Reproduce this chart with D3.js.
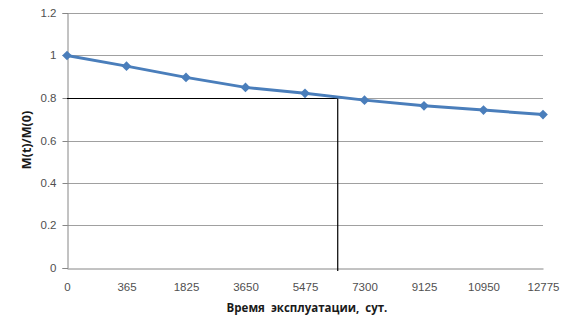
<!DOCTYPE html>
<html>
<head>
<meta charset="utf-8">
<script src="https://cdn.jsdelivr.net/npm/d3@7"></script>
<style>
	body { margin: 0; background: #fff; }
	svg { display: block; font-family: "Open Sans", "Liberation Sans", sans-serif; }
</style>
</head>
<body>
<div id="chart"></div>
<script>
// values
const days = ['0', '365', '1825', '3650', '5475', '7300', '9125', '10950', '12775']
const ratio = [1, 0.95, 0.897, 0.85, 0.822, 0.79, 0.763, 0.743, 0.722]
const yTicks = [0, 0.2, 0.4, 0.6, 0.8, 1, 1.2]
const threshold = 0.8
const crossIndex = 4.55 // where the marked vertical sits, in category units

const width = 573
const height = 325
const margin = { top: 13, right: 30, bottom: 57, left: 67 }

const scaleX = d3.scaleLinear()
	.domain([0, days.length - 1])
	.range([margin.left, width - margin.right])

const scaleY = d3.scaleLinear()
	.domain([0, 1.2])
	.range([height - margin.bottom, margin.top])

const svg = d3.select('#chart')
	.append('svg')
	.attr('width', width)
	.attr('height', height)

// grid
svg.append('g')
	.selectAll('line')
	.data(yTicks.filter(d => d > 0))
	.join('line')
	.attr('x1', margin.left)
	.attr('x2', width - margin.right)
	.attr('y1', d => Math.round(scaleY(d)) + 0.5)
	.attr('y2', d => Math.round(scaleY(d)) + 0.5)
	.attr('stroke', '#a0a0a0')
	.attr('stroke-width', 1)

// y axis
const axisY = d3.axisLeft(scaleY)
	.tickValues(yTicks)
	.tickFormat(d => String(d))
	.tickSize(5)
	.tickPadding(6)

const gy = svg.append('g')
	.attr('transform', `translate(${margin.left + 0.5}, 0)`)
	.call(axisY)

gy.select('.domain').attr('stroke', '#868686')
gy.selectAll('.tick line').attr('stroke', '#868686')
gy.selectAll('.tick').attr('transform', d => `translate(0, ${Math.round(scaleY(d)) + 0.5})`)
gy.selectAll('text').attr('font-size', 11.5).attr('fill', '#505050').attr('font-family', null)

// x axis
const axisX = d3.axisBottom(scaleX)
	.tickValues(d3.range(days.length))
	.tickFormat(i => days[i])
	.tickSize(0)
	.tickPadding(14)

const gx = svg.append('g')
	.attr('transform', `translate(0, ${Math.round(scaleY(0)) + 0.5})`)
	.call(axisX)

gx.select('.domain').attr('stroke', '#868686')
gx.selectAll('text').attr('font-size', 11.5).attr('fill', '#505050').attr('font-family', null)

// marked level
svg.append('line')
	.attr('x1', margin.left)
	.attr('x2', scaleX(crossIndex))
	.attr('y1', Math.round(scaleY(threshold)) + 0.5)
	.attr('y2', Math.round(scaleY(threshold)) + 0.5)
	.attr('stroke', '#000')
	.attr('stroke-width', 1.2)

svg.append('line')
	.attr('x1', scaleX(crossIndex))
	.attr('x2', scaleX(crossIndex))
	.attr('y1', scaleY(threshold))
	.attr('y2', scaleY(0) + 3)
	.attr('stroke', '#000')
	.attr('stroke-width', 1.2)

// series
const line = d3.line()
	.x((d, i) => scaleX(i))
	.y(d => scaleY(d))

svg.append('path')
	.datum(ratio)
	.attr('d', line)
	.attr('fill', 'none')
	.attr('stroke', '#4a7ebb')
	.attr('stroke-width', 3)
	.attr('stroke-linejoin', 'round')

svg.append('g')
	.selectAll('path')
	.data(ratio)
	.join('path')
	.attr('d', d3.symbol(d3.symbolDiamond2, 60))
	.attr('transform', (d, i) => `translate(${scaleX(i)}, ${scaleY(d)})`)
	.attr('fill', '#4a7ebb')

// titles
svg.append('text')
	.attr('x', 307)
	.attr('y', 312)
	.attr('text-anchor', 'middle')
	.attr('font-size', 11.5)
	.attr('font-weight', 'bold')
	.attr('fill', '#1a1a1a')
	.attr('xml:space', 'preserve')
	.text('Время  эксплуатации,  сут.')

svg.append('text')
	.attr('transform', `translate(31, 140) rotate(-90)`)
	.attr('text-anchor', 'middle')
	.attr('font-size', 12.5)
	.attr('font-weight', 'bold')
	.attr('fill', '#1a1a1a')
	.text('M(t)/M(0)')
</script>
</body>
</html>
